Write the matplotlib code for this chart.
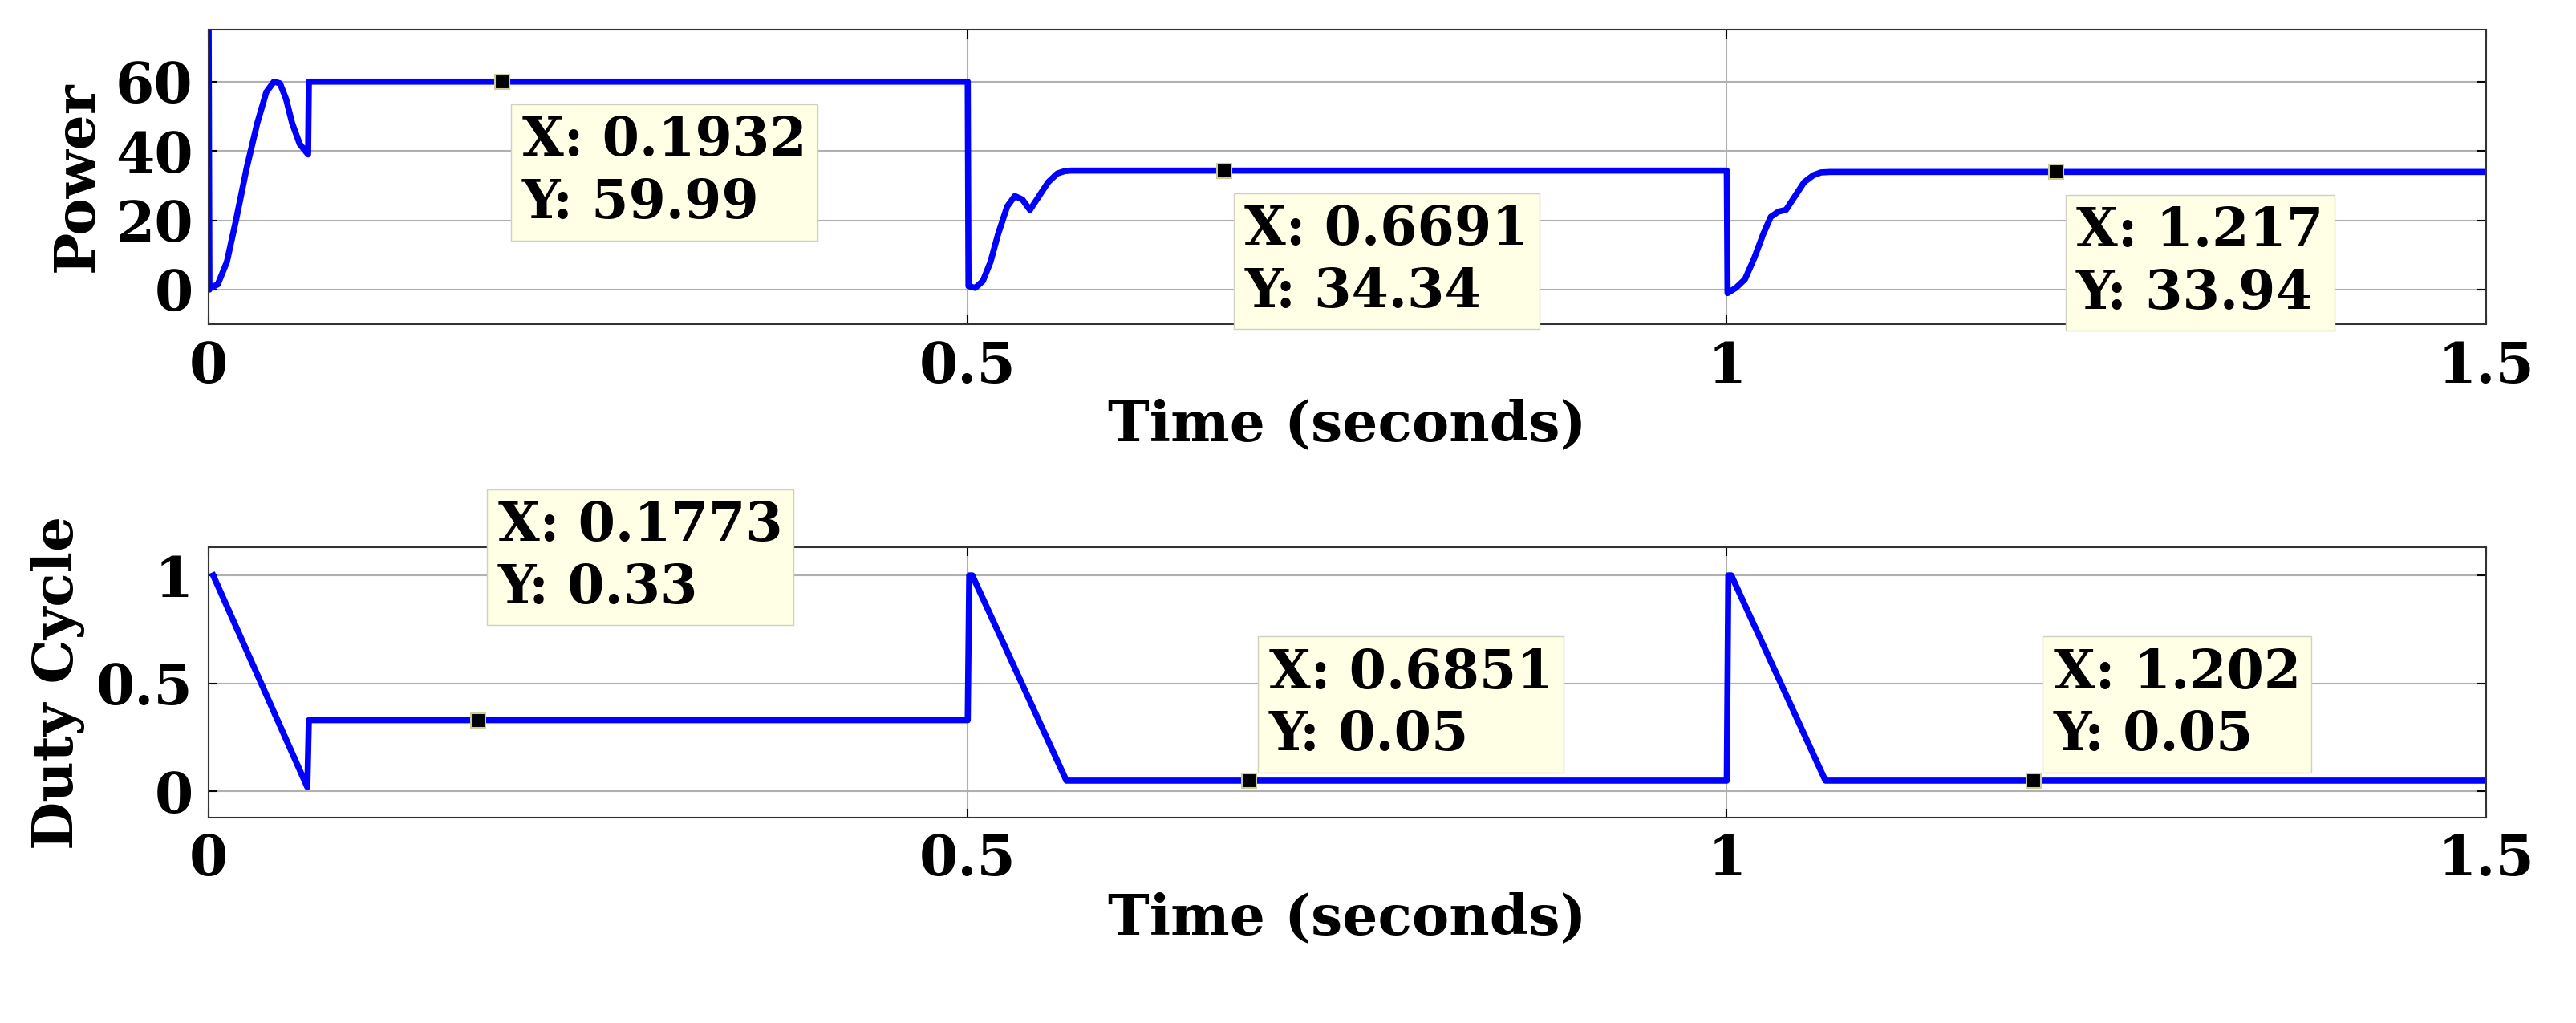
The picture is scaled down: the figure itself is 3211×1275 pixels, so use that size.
import matplotlib
matplotlib.use("Agg")
import matplotlib.pyplot as plt

# power trace (t, P)
power_t = [0.0, 0.0005, 0.001, 0.006, 0.012, 0.018, 0.025, 0.032, 0.038, 0.043, 0.047, 0.051,
           0.055, 0.06, 0.0655, 0.066, 0.5, 0.5005,
           0.505, 0.51, 0.515, 0.52, 0.526, 0.531, 0.536, 0.541, 0.547, 0.553, 0.559, 0.564, 0.568,
           1.0, 1.0005, 1.006, 1.012, 1.018, 1.024, 1.029, 1.034, 1.039, 1.045, 1.051, 1.057,
           1.062, 1.068, 1.5]
power_p = [75, 0, 0.5, 1.5, 8, 20, 35, 48, 57, 60, 59.5, 55,
           48, 42, 39, 60, 60, 1,
           0.5, 2.5, 8, 16, 24, 27, 26, 23, 27, 31, 33.5, 34.2, 34.34,
           34.34, -1, 0.5, 3, 9, 16, 21, 22.5, 23, 27, 31, 33, 33.8, 33.94, 33.94]

duty_t = [0.003, 0.065, 0.066, 0.5, 0.501, 0.503, 0.565, 1.0, 1.001, 1.003, 1.065, 1.5]
duty_d = [1.0, 0.02, 0.33, 0.33, 1.0, 1.0, 0.05, 0.05, 1.0, 1.0, 0.05, 0.05]

power_tips = [(0.1932, 59.99), (0.6691, 34.34), (1.217, 33.94)]
duty_tips = [(0.1773, 0.33), (0.6851, 0.05), (1.202, 0.05)]

FONT = "DejaVu Serif"
FS = 50
TIP_FS = 48
BLUE = "#0000ff"

fig = plt.figure(figsize=(32.11, 12.75), dpi=100)
ax1 = fig.add_axes([0.081, 0.683, 0.884, 0.288])
ax2 = fig.add_axes([0.081, 0.201, 0.884, 0.264])

ax1.plot(power_t, power_p, color=BLUE, lw=5.5, solid_joinstyle="round")
ax2.plot(duty_t, duty_d, color=BLUE, lw=5.5, solid_joinstyle="round")

ax1.set_ylim(-10, 75)
ax1.set_yticks([0, 20, 40, 60])
ax1.set_yticklabels(["0", "20", "40", "60"])
ax2.set_ylim(-0.12, 1.13)
ax2.set_yticks([0, 0.5, 1])
ax2.set_yticklabels(["0", "0.5", "1"])

for ax, ylab in [(ax1, "Power"), (ax2, "Duty Cycle")]:
    ax.set_xlim(0, 1.5)
    ax.set_xticks([0, 0.5, 1, 1.5])
    ax.set_xticklabels(["0", "0.5", "1", "1.5"])
    ax.grid(True, color="#b0b0b0", lw=1.5)
    ax.set_xlabel("Time (seconds)", fontsize=FS, fontweight="bold", family=FONT, labelpad=4)
    ax.set_ylabel(ylab, fontsize=FS, fontweight="bold", family=FONT, labelpad=10)
    ax.tick_params(labelsize=FS, length=8, width=1.5, direction="in", top=True, right=True, pad=14)
    for lab in ax.get_xticklabels() + ax.get_yticklabels():
        lab.set_fontweight("bold")
        lab.set_family(FONT)
    for s in ax.spines.values():
        s.set_linewidth(1.5)
        s.set_color("#333333")

box = dict(boxstyle="square,pad=0.2", fc="#ffffe6", ec="#d0d0c0", lw=1)


def tip(ax, x, y, dy, va):
    ax.plot([x], [y], "s", color="black", ms=13, mec="#cccc99", mew=1.5, zorder=5)
    ax.annotate(f"X: {x:g}\nY: {y:g}", (x, y), xytext=(18, dy), textcoords="offset points",
                ha="left", va=va, fontsize=TIP_FS, fontweight="bold", family=FONT,
                bbox=box, linespacing=1.25, zorder=6, annotation_clip=False)


for x, y in power_tips:
    tip(ax1, x, y, -30, "top")
for (x, y), dy in zip(duty_tips, [95, 17, 17]):
    tip(ax2, x, y, dy, "bottom")

fig.savefig("out.png", dpi=100)
